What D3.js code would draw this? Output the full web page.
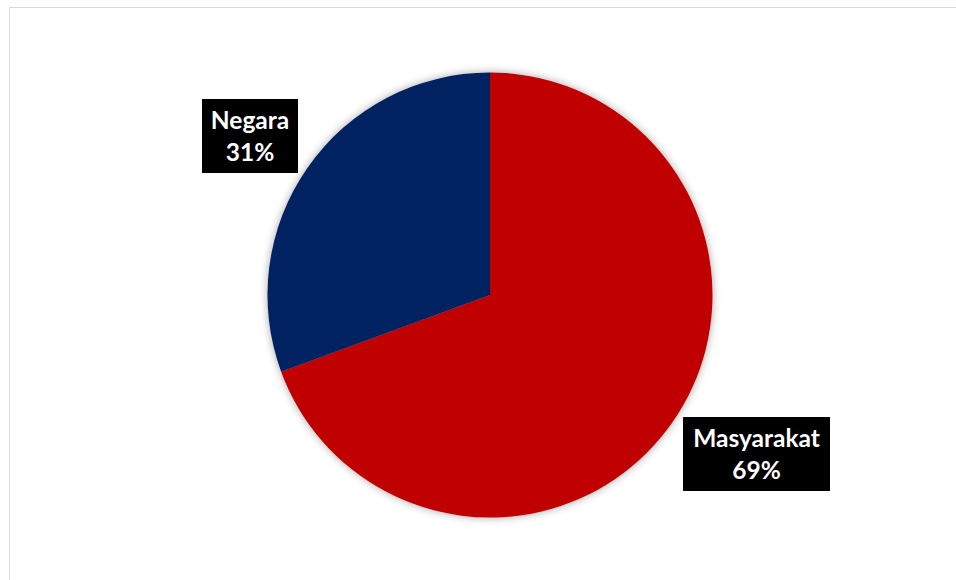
<!DOCTYPE html>
<html><head><meta charset="utf-8">
<script src="https://cdn.jsdelivr.net/npm/d3@7"></script>
<style>html,body{margin:0;padding:0;background:#fff;}svg{display:block;}</style>
</head><body>
<svg id="chart" width="956" height="580"></svg>
<script>
const categories = ["Masyarakat", "Negara"];
const values = [69.4, 30.6];
const colors = ["#C00000", "#002060"];

const svg = d3.select("#chart");
const W = 956, H = 580;
svg.append("rect").attr("x", 9.5).attr("y", 7.5).attr("width", W).attr("height", H)
  .attr("fill", "#fff").attr("stroke", "#d9d9d9").attr("stroke-width", 1);

const defs = svg.append("defs");
const f = defs.append("filter").attr("id", "sh").attr("x", "-20%").attr("y", "-20%").attr("width", "140%").attr("height", "140%");
f.append("feGaussianBlur").attr("in", "SourceAlpha").attr("stdDeviation", 4).attr("result", "b");
f.append("feComponentTransfer").attr("in", "b").attr("result", "t")
  .append("feFuncA").attr("type", "linear").attr("slope", 0.35);
const m = f.append("feMerge");
m.append("feMergeNode").attr("in", "t");
m.append("feMergeNode").attr("in", "SourceGraphic");

const cx = 490, cy = 295, R = 222.5;
const data = categories.map((c, i) => ({ name: c, value: values[i], color: colors[i] }));
const pie = d3.pie().value(d => d.value).sort(null);
const arcs = pie(data);
const arc = d3.arc().innerRadius(0).outerRadius(R);

const g = svg.append("g").attr("transform", `translate(${cx},${cy})`);
g.append("g").attr("filter", "url(#sh)")
  .selectAll("path").data(arcs).join("path")
  .attr("d", arc).attr("fill", d => d.data.color);

const total = d3.sum(values);
// label box placement (offset from pie centre) and sizes
const labelPos = { "Masyarakat": [266.5, 159], "Negara": [-240, -159] };
const boxW = { "Masyarakat": 147, "Negara": 96 };
const boxH = 74;
arcs.forEach(a => {
  const [x, y] = labelPos[a.data.name];
  const lg = g.append("g").attr("transform", `translate(${x},${y})`);
  const bw = boxW[a.data.name];
  lg.append("rect").attr("x", -bw / 2).attr("y", -boxH / 2).attr("width", bw).attr("height", boxH).attr("fill", "#000");
  const t = lg.append("text").attr("text-anchor", "middle").attr("fill", "#fff")
    .attr("font-family", "Lato, 'Open Sans', sans-serif").attr("font-weight", "bold").attr("font-size", 24.5);
  t.append("tspan").attr("x", 0).attr("y", -7.5).text(a.data.name);
  t.append("tspan").attr("x", 0).attr("y", 25).text(Math.round(a.data.value / total * 100) + "%");
});
</script>
</body></html>
